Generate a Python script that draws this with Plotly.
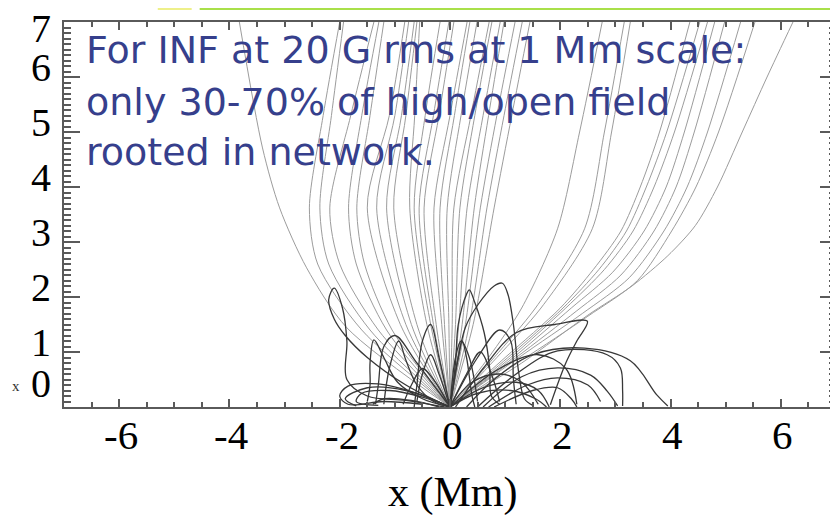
import plotly.graph_objects as go

# ---------------- data (in Mm) ----------------
# open (high-reaching) field lines: grey
open_x = [
    [0, -1.87, -2.6, -3.09, -3.4, -3.82],
    [0, -1.6, -2.4, -2.55, -2.3, -2.0],
    [0, -1.45, -2.2, -2.36, -2.15, -1.93],
    [0, -1.3, -2.0, -2.18, -1.8, -1.38],
    [0, -1.15, -1.7, -1.84, -1.6, -1.29],
    [0, -1.05, -1.55, -1.69, -1.45, -1.2],
    [0, -0.9, -1.5, -1.1, -0.82],
    [0, -0.8, -1.33, -1.0, -0.75],
    [0, -0.7, -1.15, -0.88, -0.65],
    [0, -0.6, -1.02, -0.8, -0.6],
    [0, -0.42, -0.73, -0.64, -0.55],
    [0, -0.35, -0.65, -0.45, -0.18],
    [0, -0.3, -0.56, -0.3, -0.02],
    [0, -0.25, -0.47, -0.2, 0.07],
    [0, -0.15, -0.29, 0.0, 0.31],
    [0, -0.1, -0.18, 0.08, 0.36],
    [0, -0.02, -0.05, 0.2, 0.49],
    [0, 0.04, 0.07, 0.38, 0.71],
    [0, 0.1, 0.18, 0.45, 0.76],
    [0, 0.16, 0.31, 0.6, 0.91],
    [0, 0.22, 0.44, 0.7, 0.98],
    [0, 0.28, 0.55, 0.85, 1.18],
    [0, 0.35, 0.67, 0.98, 1.31],
    [0, 0.42, 0.8, 1.12, 1.45],
    [0, 0.7, 1.3, 1.95, 2.35, 2.76],
    [0, 0.8, 1.55, 2.44, 2.8, 3.16],
    [0, 0.85, 1.65, 2.58, 2.93, 3.27],
    [0, 1.0, 2.0, 2.6, 3.1, 3.45, 3.8, 4.35],
    [0, 1.05, 2.05, 2.7, 3.2, 3.56, 3.93, 4.53],
    [0, 1.1, 2.1, 2.8, 3.32, 3.7, 4.07, 4.67],
    [0, 1.15, 2.2, 2.95, 3.52, 3.92, 4.25, 4.8],
    [0, 1.2, 2.3, 3.1, 3.7, 4.1, 4.43, 4.98],
    [0, 1.25, 2.4, 3.25, 3.88, 4.3, 4.67, 5.27],
    [0, 1.3, 2.5, 3.4, 4.02, 4.46, 4.87, 5.53],
    [0, 1.3, 2.5, 3.3, 3.95, 4.45, 4.85, 5.3, 5.75, 6.22],
]
open_y = [
    [0, 1.44, 2.53, 3.62, 4.71, 7],
    [0, 1.4, 2.6, 3.62, 5.3, 7],
    [0, 1.4, 2.6, 3.62, 5.3, 7],
    [0, 1.4, 2.6, 3.62, 5.3, 7],
    [0, 1.4, 2.6, 3.62, 5.3, 7],
    [0, 1.4, 2.6, 3.62, 5.3, 7],
    [0, 1.5, 3.62, 5.3, 7],
    [0, 1.5, 3.62, 5.3, 7],
    [0, 1.5, 3.62, 5.3, 7],
    [0, 1.5, 3.62, 5.3, 7],
    [0, 1.5, 3.62, 5.3, 7],
    [0, 1.5, 3.62, 5.3, 7],
    [0, 1.5, 3.62, 5.3, 7],
    [0, 1.5, 3.62, 5.3, 7],
    [0, 1.5, 3.62, 5.3, 7],
    [0, 1.5, 3.62, 5.3, 7],
    [0, 1.5, 3.62, 5.3, 7],
    [0, 1.5, 3.62, 5.3, 7],
    [0, 1.5, 3.62, 5.3, 7],
    [0, 1.5, 3.62, 5.3, 7],
    [0, 1.5, 3.62, 5.3, 7],
    [0, 1.5, 3.62, 5.3, 7],
    [0, 1.5, 3.62, 5.3, 7],
    [0, 1.5, 3.62, 5.3, 7],
    [0, 0.9, 1.8, 3.24, 5.0, 7],
    [0, 0.9, 1.8, 3.24, 5.0, 7],
    [0, 0.9, 1.8, 3.24, 5.0, 7],
    [0, 0.9, 1.8, 2.5, 3.2, 4.0, 5.0, 7],
    [0, 0.9, 1.8, 2.5, 3.2, 4.0, 5.0, 7],
    [0, 0.9, 1.8, 2.5, 3.2, 4.0, 5.0, 7],
    [0, 0.9, 1.8, 2.45, 3.2, 4.0, 5.0, 7],
    [0, 0.9, 1.75, 2.4, 3.2, 4.0, 5.0, 7],
    [0, 0.9, 1.7, 2.35, 3.2, 4.0, 5.0, 7],
    [0, 0.85, 1.65, 2.3, 3.2, 4.0, 5.0, 7],
    [0, 0.8, 1.67, 2.2, 2.75, 3.3, 4.0, 5.0, 6.0, 7],
]

# closed (low-lying) loops: dark
closed_x = [
    [-0.1, -0.8, -1.5, -1.87, -1.87, -1.95, -2.1, -2.2, -2.1, -1.9, -1.5, -0.8, 0],
    [0, -0.5, -0.95, -1.2, -1.38, -1.45, -1.45, -1.5],
    [0, -0.3, -0.6, -0.8, -0.93, -1.1, -1.2],
    [0, 0.1, 0.15, 0.3, 0.35, 0.45, 0.62, 0.72, 0.75, 0.9],
    [0, 0.15, 0.28, 0.5, 0.8, 0.95, 1.05, 1.15, 1.25, 1.35, 1.5],
    [0.1, 0.6, 1.2, 1.9, 2.49, 2.3, 2.1, 1.82],
    [0.3, 0.8, 1.5, 2.44, 3.27, 3.75, 3.95],
    [0.5, 1.2, 1.95, 2.85, 3.09, 3.13, 3.13],
    [0.6, 1.3, 1.95, 2.55, 2.85, 3.04],
    [0.7, 1.4, 1.95, 2.5, 2.73],
    [0.8, 1.5, 1.95, 2.2, 2.3],
    [0, -0.6, -1.3, -1.85, -2.0, -1.85, -1.2, -0.5],
    [0, -0.5, -1.1, -1.6, -1.7, -1.3],
    [-0.2, -0.7, -1.2, -1.4],
    [0, 0.1, 0.2, 0.35, 0.5],
    [0, 0.4, 0.9, 1.3, 1.6],
    [0, 0.5, 1.1, 1.55, 1.75],
    [0, 0.3, 0.55, 0.75, 0.9],
    [0, -0.3, -0.5, -0.7, -0.85],
    [0, 0.6, 1.2, 1.6, 1.8],
    [0, 0.9, 1.6, 2.1, 2.3],
    [0, -0.8, -1.5, -1.9, -1.7],
    [0, -0.2, -0.35, -0.5, -0.6],
    [0, -0.6, -1.0, -1.2, -1.3, -1.35],
    [0, 0.5, 0.9, 1.1, 1.15, 1.2],
    [0, -0.2, -0.35, -0.5, -0.6, -0.65],
    [0, 0.15, 0.22, 0.3, 0.4, 0.45],
]
closed_y = [
    [0.0, 0.12, 0.2, 0.5, 1.2, 1.8, 2.16, 1.95, 1.6, 1.3, 0.9, 0.4, 0],
    [0, 0.15, 0.45, 0.9, 1.22, 0.8, 0.4, 0.1],
    [0, 0.1, 0.4, 0.85, 1.2, 0.7, 0.05],
    [0, 0.8, 1.5, 2.05, 2.13, 1.9, 1.35, 0.7, 0.2, 0.05],
    [0, 0.9, 1.45, 1.85, 2.2, 2.25, 2.05, 1.5, 0.6, 0.15, 0.03],
    [0, 0.7, 1.35, 1.5, 1.56, 1.2, 0.8, 0.04],
    [0, 0.5, 0.95, 1.07, 0.84, 0.22, 0.02],
    [0, 0.6, 1.02, 0.95, 0.71, 0.3, 0.02],
    [0, 0.55, 0.71, 0.58, 0.29, 0.02],
    [0, 0.4, 0.53, 0.4, 0.1],
    [0, 0.3, 0.35, 0.15, 0.0],
    [0, 0.25, 0.42, 0.38, 0.2, 0.05, 0.1, 0.05],
    [0, 0.18, 0.3, 0.25, 0.1, 0.03],
    [0, 0.12, 0.15, 0.05],
    [0, 0.9, 1.2, 0.9, 0.1],
    [0, 0.45, 0.6, 0.45, 0.05],
    [0, 0.25, 0.3, 0.15, 0.0],
    [0, 0.6, 1.0, 0.6, 0.1],
    [0, 0.5, 0.7, 0.4, 0.05],
    [0, 0.35, 0.45, 0.3, 0.0],
    [0, 0.7, 0.95, 0.7, 0.05],
    [0, 0.3, 0.35, 0.15, 0.02],
    [0, 0.6, 0.95, 0.6, 0.1],
    [0, 0.8, 1.3, 1.1, 0.4, 0.05],
    [0, 0.9, 1.4, 1.2, 0.5, 0.05],
    [0, 0.9, 1.5, 1.2, 0.4, 0.0],
    [0, 0.9, 1.2, 0.9, 0.2, 0.0],
]

x_ticks = [-6, -4, -2, 0, 2, 4, 6]
y_ticks = [0, 1, 2, 3, 4, 5, 6, 7]
note_lines = ["For INF at 20 G rms at 1 Mm scale:",
              "only 30-70% of high/open field",
              "rooted in network."]

# ---------------- figure ----------------
fig = go.Figure()
for xs, ys in zip(open_x, open_y):
    fig.add_trace(go.Scatter(x=xs, y=ys, mode="lines",
                             line=dict(color="#9c9c9c", width=1, shape="spline", smoothing=0.8),
                             hoverinfo="skip", showlegend=False))
for xs, ys in zip(closed_x, closed_y):
    fig.add_trace(go.Scatter(x=xs, y=ys, mode="lines",
                             line=dict(color="#383838", width=1.3, shape="spline", smoothing=1.0),
                             hoverinfo="skip", showlegend=False))
# empty trace so that the overlaid minor-tick axes get drawn
fig.add_trace(go.Scatter(x=[], y=[], xaxis="x2", yaxis="y2", mode="lines",
                         hoverinfo="skip", showlegend=False))

W, H = 838, 515
L, R, T, B = 56, 8, 14, 116
pw, ph = W - L - R, H - T - B


def pxx(px):
    return (px - L) / pw


def pxy(py):
    return (H - B - py) / ph


serif = "Liberation Serif, Times New Roman, serif"
axis_col = "#5a5a5a"

fig.update_layout(
    width=W, height=H,
    margin=dict(l=L, r=R, t=T, b=B),
    paper_bgcolor="white", plot_bgcolor="white",
    showlegend=False,
    xaxis=dict(range=[-7, 7], showgrid=False, zeroline=False,
               showline=True, linecolor=axis_col, linewidth=2, mirror="allticks",
               tickmode="linear", tick0=0, dtick=2, showticklabels=False,
               ticks="inside", ticklen=8, tickwidth=2, tickcolor=axis_col),
    yaxis=dict(range=[0, 7], showgrid=False, zeroline=False,
               showline=True, linecolor=axis_col, linewidth=2, mirror="allticks",
               tickmode="linear", tick0=0, dtick=1, showticklabels=False,
               ticks="inside", ticklen=16, tickwidth=2, tickcolor=axis_col),
    xaxis2=dict(range=[-7, 7], overlaying="x", anchor="y", side="bottom",
                showgrid=False, zeroline=False, showline=False, mirror="ticks",
                tickmode="linear", tick0=0, dtick=0.5, showticklabels=False,
                ticks="inside", ticklen=5, tickwidth=1.6, tickcolor=axis_col),
    yaxis2=dict(range=[0, 7], overlaying="y", anchor="x", side="left",
                showgrid=False, zeroline=False, showline=False, mirror="ticks",
                tickmode="linear", tick0=0, dtick=0.1, showticklabels=False,
                ticks="inside", ticklen=7, tickwidth=1.6, tickcolor=axis_col),
)

# y tick labels (the "0" and "7" sit slightly inward, as in the original)
extra = {0: 14, 7: -16}
for v in y_ticks:
    fig.add_annotation(xref="paper", yref="y", x=pxx(45), y=v, yshift=10 + extra.get(v, 0),
                       text=str(v), showarrow=False, xanchor="right", yanchor="middle",
                       height=34, font=dict(family=serif, size=40, color="black"))

# x tick labels (plain hyphen minus, as in the original)
for v in x_ticks:
    fig.add_annotation(xref="x", yref="paper", x=v, y=pxy(427), xshift=2,
                       text=str(v), showarrow=False, xanchor="center", yanchor="middle",
                       font=dict(family=serif, size=41, color="black"))

# x-axis title
fig.add_annotation(xref="paper", yref="paper", x=pxx(446), y=pxy(484), text="x (Mm)",
                   showarrow=False, xanchor="center", yanchor="middle",
                   font=dict(family=serif, size=42, color="black"))

fig.add_annotation(xref="paper", yref="paper", x=pxx(2), y=pxy(378), text="x", showarrow=False,
                   xanchor="left", yanchor="middle", font=dict(family=serif, size=15, color="#333"))

for txt, cy in zip(note_lines, [42, 94, 144]):
    fig.add_annotation(xref="paper", yref="paper", x=pxx(76), y=pxy(cy), text=txt, showarrow=False,
                       xanchor="left", yanchor="middle",
                       font=dict(family="DejaVu Sans, Verdana, sans-serif", size=38, color="#363f8c"))

# slide border remnants at very top
fig.add_shape(type="rect", xref="paper", yref="paper", x0=pxx(150), x1=pxx(184), y0=pxy(2), y1=pxy(0),
              fillcolor="#eef08a", line_width=0, layer="above")
fig.add_shape(type="rect", xref="paper", yref="paper", x0=pxx(192), x1=pxx(838), y0=pxy(2), y1=pxy(0),
              fillcolor="#a9e04a", line_width=0, layer="above")

fig.write_html("out.html")
